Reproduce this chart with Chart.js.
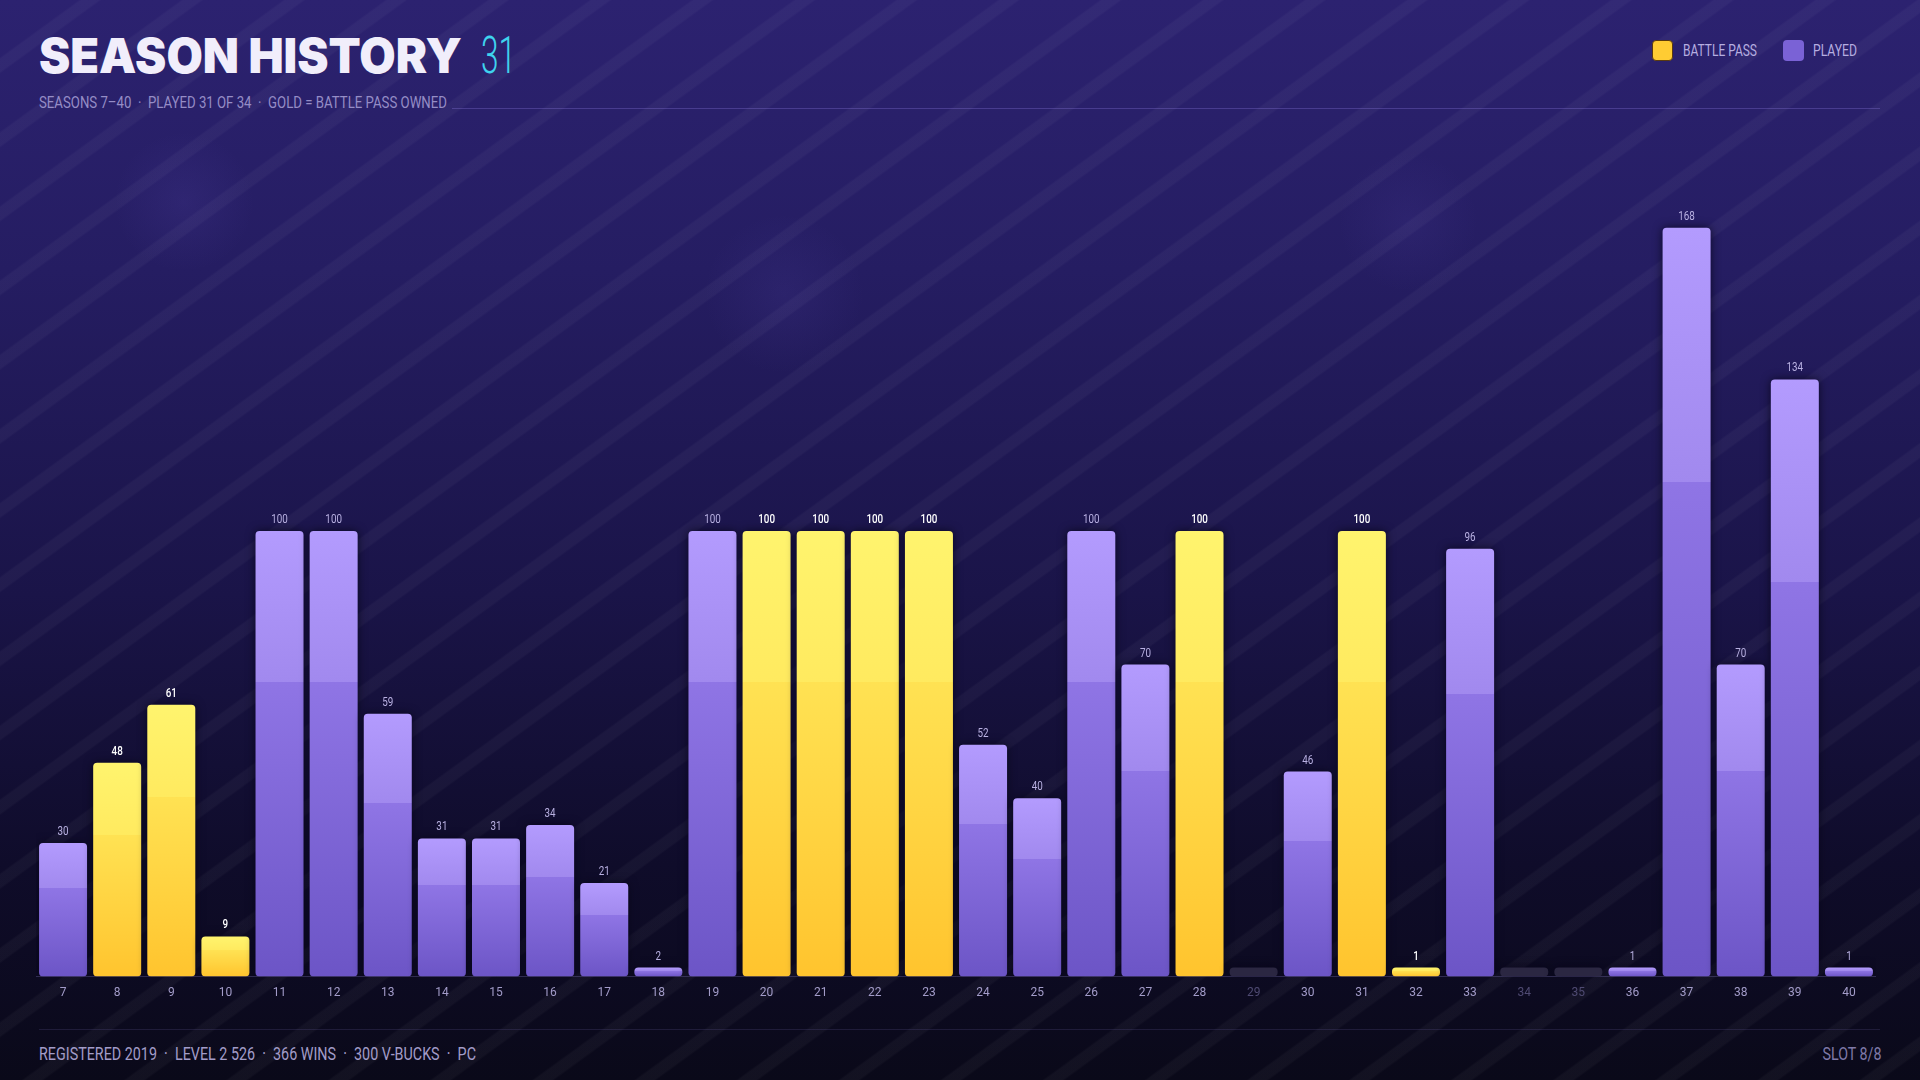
<!DOCTYPE html>
<html lang="en">
<head>
  <meta charset="UTF-8">
  <title>Season History</title>
  <script src="https://cdn.jsdelivr.net/npm/chart.js@4.4.1/dist/chart.umd.min.js"></script>
  <style>
    html, body { margin: 0; padding: 0; }
    body {
      width: 1920px; height: 1080px; overflow: hidden; position: relative;
      background: linear-gradient(180deg, #2c2270 0%, #251d62 25%, #1a1448 55%, #0f0c2a 80%, #0a0919 100%);
      font-family: Roboto, sans-serif;
    }
    .bg-stripes {
      position: absolute; inset: 0;
      background: repeating-linear-gradient(144deg,
        rgba(255,255,255,0) 0px, rgba(255,255,255,0) 46px,
        rgba(255,255,255,0.035) 48px, rgba(255,255,255,0.035) 58px, rgba(255,255,255,0) 60px);
    }
    .bg-blobs {
      position: absolute; inset: 0;
      background:
        radial-gradient(circle at 184px 202px, rgba(120,100,220,0.10) 0, rgba(120,100,220,0) 70px),
        radial-gradient(circle at 784px 294px, rgba(120,100,220,0.09) 0, rgba(120,100,220,0) 80px),
        radial-gradient(circle at 1408px 222px, rgba(120,100,220,0.08) 0, rgba(120,100,220,0) 70px);
    }
    .txt { position: absolute; display: inline-block; white-space: pre; }
    #title {
      left: 39px; top: 28px;
      font-family: Inter, Lato, sans-serif; font-weight: 900; font-size: 48px;
      color: #f1eefb; line-height: 56px;
    }
    #count { left: 481px; top: 27px; font-size: 51px; font-weight: 300; color: #3fd3ee; line-height: 58px; }
    #subtitle { left: 39px; top: 94px; font-size: 17px; line-height: 17px; color: #958dc6; }
    #headRule { position: absolute; left: 452px; top: 108px; width: 1428px; height: 1px; background: rgba(140,122,220,0.32); }
    .sw { position: absolute; top: 40px; width: 21px; height: 21px; border-radius: 4px; box-sizing: border-box; }
    .legTxt { top: 42px; font-size: 17px; line-height: 17px; color: #b6aee0; }
    #chartWrap { position: absolute; left: 36px; top: 161px; width: 1840px; height: 840px; }
    #footRule { position: absolute; left: 39px; top: 1029px; width: 1841px; height: 1px; background: rgba(120,110,190,0.18); }
    #footLeft { left: 39px; top: 1045px; font-size: 18px; line-height: 18px; color: #a29cc8; }
    #footRight { right: 39px; top: 1045px; font-size: 18px; line-height: 18px; color: #7f79a8; }
  </style>
</head>
<body>
  <div class="bg-stripes"></div>
  <div class="bg-blobs"></div>

  <span id="title" class="txt">SEASON HISTORY</span>
  <span id="count" class="txt">31</span>
  <span id="subtitle" class="txt">SEASONS 7–40  ·  PLAYED 31 OF 34  ·  GOLD = BATTLE PASS OWNED</span>
  <div id="headRule"></div>

  <div class="sw" style="left:1652px;background:#ffcc33;border:1px solid #5a3a10"></div>
  <span id="legBP" class="txt legTxt" style="left:1683px">BATTLE PASS</span>
  <div class="sw" style="left:1783px;background:#7a62d6"></div>
  <span id="legPlayed" class="txt legTxt" style="left:1813px">PLAYED</span>

  <div id="chartWrap"><canvas id="seasonChart"></canvas></div>

  <div id="footRule"></div>
  <span id="footLeft" class="txt">REGISTERED 2019  ·  LEVEL 2 526  ·  366 WINS  ·  300 V-BUCKS  ·  PC</span>
  <span id="footRight" class="txt">SLOT 8/8</span>

  <script>
    // season numbers on the x axis
    const seasons = ['7', '8', '9', '10', '11', '12', '13', '14', '15', '16', '17', '18',
      '19', '20', '21', '22', '23', '24', '25', '26', '27', '28', '29', '30',
      '31', '32', '33', '34', '35', '36', '37', '38', '39', '40'];

    // level reached per season, null = not played
    const levels = [30, 48, 61, 9, 100, 100, 59, 31, 31, 34, 21, 2,
      100, 100, 100, 100, 100, 52, 40, 100, 70, 100, null, 46,
      100, 1, 96, null, null, 1, 168, 70, 134, 1];

    // battle pass owned that season
    const battlePass = [false, true, true, true, false, false, false, false, false, false, false, false,
      false, true, true, true, true, false, false, false, false, true, false, false,
      true, true, false, false, false, false, false, false, false, false];

    const FONT = 'Roboto, sans-serif';

    // squeeze text to the narrow width of the original lettering
    function fitWidth(id, target, origin) {
      const el = document.getElementById(id);
      const w = el.getBoundingClientRect().width;
      el.style.transformOrigin = origin || 'left center';
      el.style.transform = 'scaleX(' + (target / w).toFixed(3) + ')';
    }
    fitWidth('title', 423);
    fitWidth('count', 35);
    fitWidth('subtitle', 408);
    fitWidth('legBP', 74);
    fitWidth('legPlayed', 44);
    fitWidth('footLeft', 437);
    fitWidth('footRight', 59, 'right center');

    function barFill(context) {
      const i = context.dataIndex;
      if (levels[i] === null) return '#2b2742';
      const gold = battlePass[i];
      const chart = context.chart;
      const y = chart.scales && chart.scales.y;
      if (!chart.chartArea || !y) return gold ? '#ffd840' : '#8a70e0';
      const base = y.getPixelForValue(0);
      const top = Math.min(y.getPixelForValue(levels[i]), base - 9);
      const g = chart.ctx.createLinearGradient(0, top, 0, base);
      if (gold) {
        g.addColorStop(0, '#fff46e');
        g.addColorStop(0.34, '#ffea5f');
        g.addColorStop(0.34, '#ffe253');
        g.addColorStop(1, '#ffc42e');
      } else {
        g.addColorStop(0, '#b39bfe');
        g.addColorStop(0.34, '#a189ee');
        g.addColorStop(0.34, '#8f75e5');
        g.addColorStop(1, '#6c55c6');
      }
      return g;
    }

    // soft dark halo behind bars
    const barShadow = {
      id: 'barShadow',
      beforeDatasetDraw(chart) {
        const ctx = chart.ctx;
        ctx.save();
        ctx.shadowColor = 'rgba(6, 4, 24, 0.85)';
        ctx.shadowBlur = 10;
      },
      afterDatasetDraw(chart) {
        chart.ctx.restore();
      }
    };

    // value above each played bar
    const valueLabels = {
      id: 'valueLabels',
      afterDatasetsDraw(chart) {
        const ctx = chart.ctx;
        const meta = chart.getDatasetMeta(0);
        meta.data.forEach((bar, i) => {
          if (levels[i] === null) return;
          ctx.save();
          ctx.translate(bar.x, bar.y - 5);
          ctx.scale(0.82, 1);
          ctx.font = (battlePass[i] ? '500 ' : '400 ') + '12px ' + FONT;
          ctx.fillStyle = battlePass[i] ? '#ffffff' : '#b9b1e2';
          ctx.textAlign = 'center';
          ctx.textBaseline = 'bottom';
          ctx.fillText(String(levels[i]), 0, 0);
          ctx.restore();
        });
      }
    };

    new Chart(document.getElementById('seasonChart'), {
      type: 'bar',
      data: {
        labels: seasons,
        datasets: [{
          data: levels.map(v => v === null ? 0 : v),
          backgroundColor: barFill,
          borderWidth: 0,
          borderRadius: 4,
          borderSkipped: false,
          minBarLength: 9,
          barPercentage: 0.887,
          categoryPercentage: 1.0
        }]
      },
      options: {
        responsive: true,
        maintainAspectRatio: false,
        animation: false,
        devicePixelRatio: 1,
        layout: { padding: 0 },
        plugins: {
          legend: { display: false },
          tooltip: { enabled: false }
        },
        scales: {
          x: {
            grid: { display: false },
            border: { display: true, color: 'rgba(130, 120, 190, 0.35)', width: 1 },
            ticks: {
              padding: 1,
              font: { family: FONT, size: 12 },
              color: ctx => levels[ctx.index] === null ? '#4f4a72' : '#a39cc9'
            }
          },
          y: { display: false, min: 0, max: 183 }
        }
      },
      plugins: [barShadow, valueLabels]
    });
  </script>
</body>
</html>
